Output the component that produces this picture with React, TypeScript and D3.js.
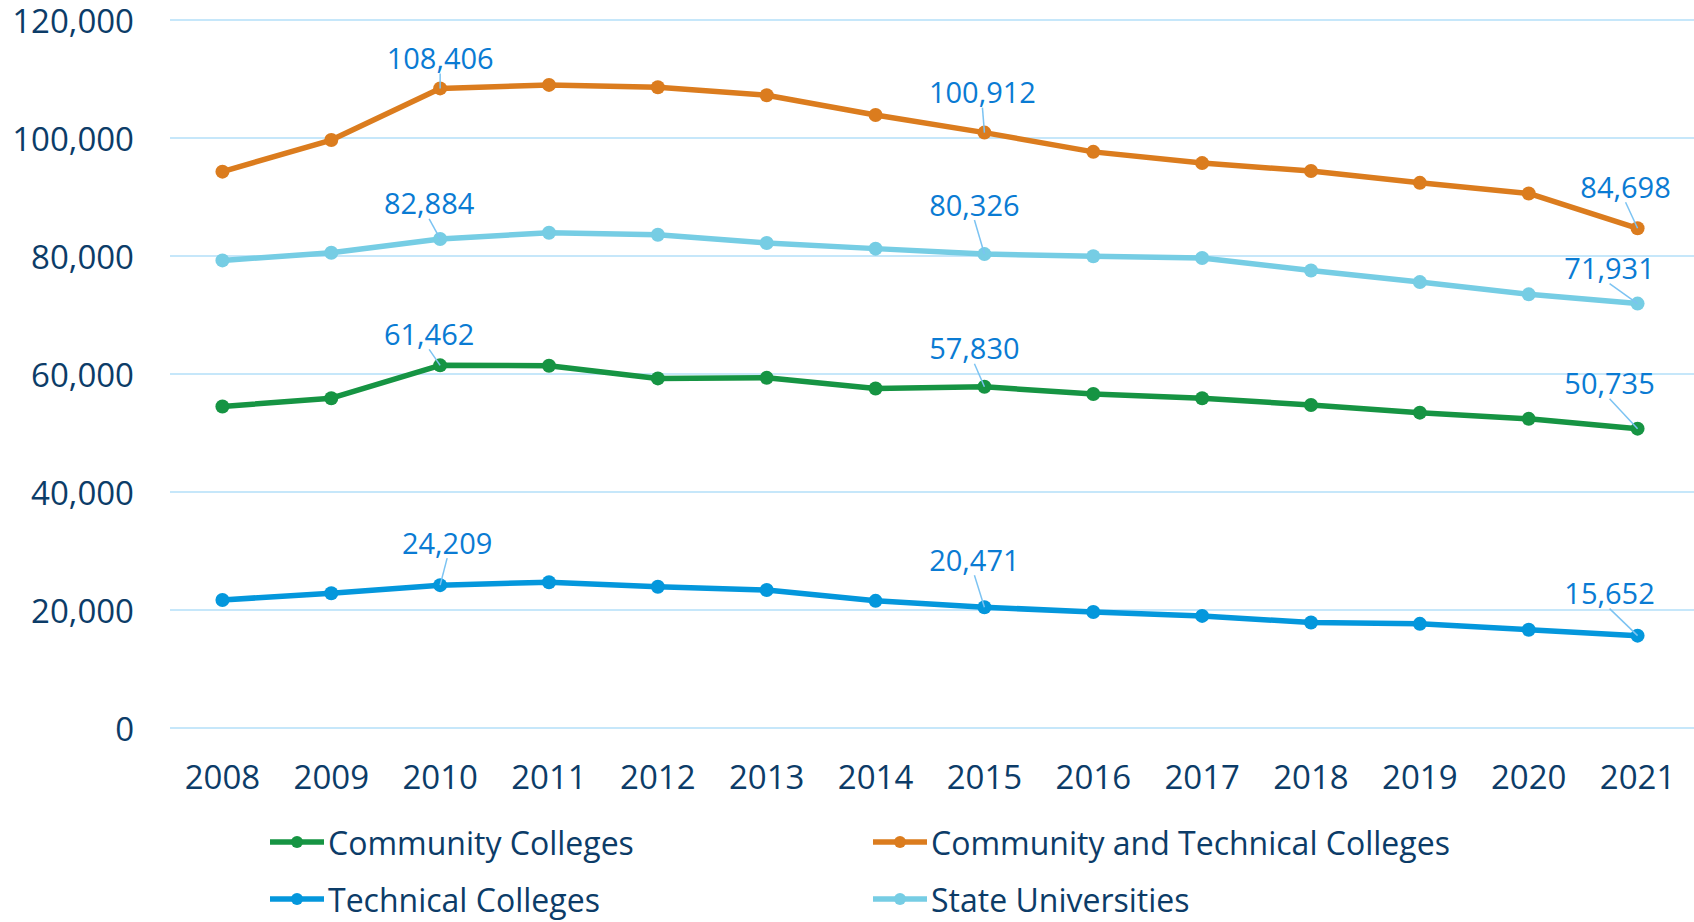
import React from "react";
import * as d3 from "d3";

const years = ["2008","2009","2010","2011","2012","2013","2014","2015","2016","2017","2018","2019","2020","2021"];
const communityColleges = [54500, 55900, 61462, 61400, 59250, 59350, 57550, 57830, 56600, 55900, 54750, 53450, 52400, 50735];
const communityAndTechnical = [94300, 99650, 108406, 109000, 108600, 107250, 103900, 100912, 97650, 95750, 94400, 92400, 90600, 84698];
const technicalColleges = [21700, 22850, 24209, 24700, 23950, 23380, 21550, 20471, 19650, 19000, 17880, 17650, 16650, 15652];
const stateUniversities = [79250, 80550, 82884, 83950, 83600, 82200, 81250, 80326, 79950, 79650, 77550, 75580, 73500, 71931];
const yTicks = [0, 20000, 40000, 60000, 80000, 100000, 120000];
const labeledYears = ["2010", "2015", "2021"];

const seriesNames = ["Community Colleges", "Community and Technical Colleges", "Technical Colleges", "State Universities"];
const seriesValues = [communityColleges, communityAndTechnical, technicalColleges, stateUniversities];
const seriesColors = ["#169443", "#DB7C1E", "#0497DC", "#76CDE4"];
// label offsets (dx, dy) relative to point, per labeled year index
const labelOffsets: Record<string, [number, number][]> = {
  "Community Colleges": [[-11, -32], [-10, -39], [-28, -46]],
  "Community and Technical Colleges": [[0, -31], [-2, -41], [-12, -42]],
  "Technical Colleges": [[7, -43], [-10, -48], [-28, -43]],
  "State Universities": [[-11, -36], [-10, -50], [-28, -36]],
};

const W = 1694, H = 922;
const plotLeft = 168, plotRight = 1692, plotTop = 20, plotBottom = 728;
const axisColor = "#0C3C68";
const labelColor = "#0A7BD3";
const font = "'Open Sans', sans-serif";

export default function App() {
  const x = d3.scaleBand<string>().domain(years).range([plotLeft, plotRight]);
  const y = d3.scaleLinear().domain([0, 120000]).range([plotBottom, plotTop]);
  const cx = (yr: string) => (x(yr) as number) + x.bandwidth() / 2;
  const line = d3.line<number>().x((_, i) => cx(years[i])).y((v) => y(v));
  const fmt = d3.format(",");
  const legendPos = [[270, 842], [873, 842], [270, 899], [873, 899]];

  return (
    <svg width={W} height={H} style={{ position: "absolute", left: 0, top: 0, background: "#fff" }} fontFamily={font}>
      {yTicks.map((t) => (
        <g key={t}>
          <line x1={170} x2={W} y1={y(t)} y2={y(t)} stroke="#C6E7FA" strokeWidth={2} />
          <text x={134} y={y(t)} textAnchor="end" dominantBaseline="central" fontSize={33} fill={axisColor}>{fmt(t)}</text>
        </g>
      ))}
      {years.map((yr) => (
        <text key={yr} x={cx(yr)} y={776} textAnchor="middle" dominantBaseline="central" fontSize={33} fill={axisColor}>{yr}</text>
      ))}
      {seriesValues.map((vals, si) => (
        <g key={si}>
          <path d={line(vals) || ""} fill="none" stroke={seriesColors[si]} strokeWidth={5.5} strokeLinejoin="round" />
          {vals.map((v, i) => (
            <circle key={i} cx={cx(years[i])} cy={y(v)} r={7} fill={seriesColors[si]} />
          ))}
        </g>
      ))}
      {seriesValues.map((vals, si) =>
        labeledYears.map((yr, li) => {
          const i = years.indexOf(yr);
          const px = cx(yr), py = y(vals[i]);
          const [dx, dy] = labelOffsets[seriesNames[si]][li];
          const lx = px + dx, ly = py + dy;
          return (
            <g key={si + "-" + yr}>
              <line x1={lx} y1={ly + 16} x2={px} y2={py} stroke="#7CC3F2" strokeWidth={1.5} />
              <text x={lx} y={ly} textAnchor="middle" dominantBaseline="central" fontSize={29} fill={labelColor}>{fmt(vals[i])}</text>
            </g>
          );
        })
      )}
      {seriesNames.map((name, si) => {
        const [lx, ly] = legendPos[si];
        return (
          <g key={name}>
            <line x1={lx} x2={lx + 54} y1={ly} y2={ly} stroke={seriesColors[si]} strokeWidth={5.5} />
            <circle cx={lx + 27} cy={ly} r={6} fill={seriesColors[si]} />
            <text x={lx + 58} y={ly} dominantBaseline="central" fontSize={32} fill={axisColor}>{name}</text>
          </g>
        );
      })}
    </svg>
  );
}
